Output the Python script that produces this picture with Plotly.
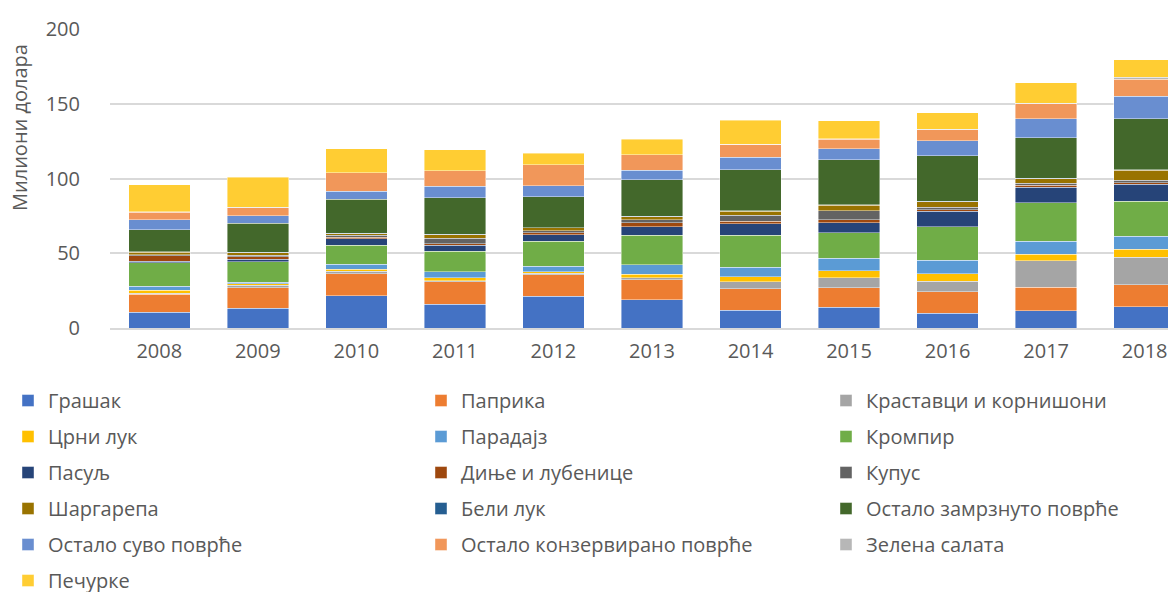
import plotly.graph_objects as go

years = ["2008", "2009", "2010", "2011", "2012", "2013", "2014", "2015", "2016", "2017", "2018"]

grasak      = [10.5, 13.2, 21.7, 16.0, 21.2, 18.9, 12.0, 14.0,  9.8, 11.5, 14.2]
paprika     = [12.1, 13.7, 14.6, 14.8, 14.3, 13.3, 14.1, 13.0, 14.3, 15.9, 14.6]
krastavci   = [ 0.7,  1.8,  1.8,  0.9,  1.1,  1.3,  4.7,  6.5,  7.2, 17.7, 18.6]
crni_luk    = [ 1.8,  0.9,  1.1,  2.0,  1.1,  2.5,  3.4,  4.9,  4.9,  4.3,  5.2]
paradajz    = [ 2.7,  1.1,  3.6,  3.8,  3.6,  6.3,  6.3,  8.3,  9.0,  8.5,  8.7]
krompir     = [15.7, 13.7, 12.6, 13.9, 16.8, 19.7, 21.7, 17.1, 22.4, 25.8, 23.6]
pasulj      = [ 1.3,  1.6,  4.2,  3.9,  4.3,  5.8,  7.6,  6.7, 10.5, 10.5, 11.2]
dinje       = [ 3.4,  1.5,  1.2,  0.9,  1.3,  2.7,  1.6,  1.8,  0.9,  1.2,  1.1]
kupus       = [ 0.7,  1.2,  1.1,  4.0,  1.4,  2.0,  4.0,  6.0,  1.8,  1.3,  1.6]
sargarepa   = [ 1.7,  1.7,  1.1,  2.2,  1.8,  2.0,  2.7,  3.9,  3.8,  3.2,  6.7]
beli_luk    = [ 0.3,  0.3,  0.3,  0.3,  0.3,  0.3,  0.3,  0.3,  0.3,  0.3,  0.3]
zamrznuto   = [14.8, 19.3, 22.7, 24.3, 20.6, 24.4, 27.4, 30.0, 30.3, 27.1, 34.3]
suvo        = [ 6.8,  5.2,  5.6,  7.8,  7.2,  6.3,  8.3,  7.4, 10.1, 12.8, 14.8]
konzervir   = [ 4.9,  5.4, 12.1, 10.3, 14.1, 10.3,  8.7,  6.5,  7.4, 10.0, 11.6]
salata      = [ 0.2,  0.2,  0.2,  0.2,  0.2,  0.2,  0.2,  0.2,  0.2,  0.2,  1.1]
pecurke     = [18.2, 20.1, 16.0, 14.1,  7.7, 10.3, 16.1, 12.1, 11.2, 13.9, 11.7]

series = [
    ("Грашак", grasak, "#4472C4", "legend"),
    ("Паприка", paprika, "#ED7D31", "legend2"),
    ("Краставци и корнишони", krastavci, "#A5A5A5", "legend3"),
    ("Црни лук", crni_luk, "#FFC000", "legend"),
    ("Парадајз", paradajz, "#5B9BD5", "legend2"),
    ("Кромпир", krompir, "#70AD47", "legend3"),
    ("Пасуљ", pasulj, "#264478", "legend"),
    ("Диње и лубенице", dinje, "#9E480E", "legend2"),
    ("Купус", kupus, "#636363", "legend3"),
    ("Шаргарепа", sargarepa, "#997300", "legend"),
    ("Бели лук", beli_luk, "#255E91", "legend2"),
    ("Остало замрзнуто поврће", zamrznuto, "#43682B", "legend3"),
    ("Остало суво поврће", suvo, "#698ED0", "legend"),
    ("Остало конзервирано поврће", konzervir, "#F1975A", "legend2"),
    ("Зелена салата", salata, "#B7B7B7", "legend3"),
    ("Печурке", pecurke, "#FFCD33", "legend"),
]

FONT = "Open Sans"
TXT = "#595959"
FS = 20

fig = go.Figure()
for i, (name, vals, color, lg) in enumerate(series):
    fig.add_trace(go.Bar(
        x=years, y=vals, name=name, legend=lg, legendgroup=name,
        marker=dict(color=color, line=dict(color="rgba(255,255,255,0.6)", width=0.7)),
    ))

leg_common = dict(
    orientation="v", xref="container", yref="container", xanchor="left", yanchor="top",
    y=0.3699, traceorder="grouped", tracegroupgap=7, bgcolor="rgba(0,0,0,0)",
    font=dict(family=FONT, size=FS, color=TXT),
)

fig.update_layout(
    width=1176, height=592,
    barmode="stack", bargap=0.376,
    plot_bgcolor="white", paper_bgcolor="white",
    margin=dict(l=102, r=0, t=21, b=272, pad=0, autoexpand=False),
    font=dict(family=FONT, size=FS, color=TXT),
    yaxis=dict(range=[0, 200], dtick=50, showgrid=True, gridcolor="#D9D9D9", gridwidth=1.5,
               zeroline=False, showline=False, ticks="", ticklabelstandoff=29,
               tickfont=dict(family=FONT, size=FS, color=TXT)),
    xaxis=dict(range=[-0.5, 10.399], showgrid=False, showline=True, linecolor="#D9D9D9",
               linewidth=1.5, ticks="", ticklabelstandoff=4,
               tickfont=dict(family=FONT, size=FS, color=TXT)),
    legend=dict(x=0.0, **leg_common),
    legend2=dict(x=413/1176, **leg_common),
    legend3=dict(x=818/1176, **leg_common),
    showlegend=True,
    annotations=[dict(text="Милиони долара", textangle=-90, xref="paper", yref="paper",
                      x=(11 - 102) / 1074, y=(320 - 120) / 299, xanchor="center", yanchor="middle",
                      showarrow=False, font=dict(family=FONT, size=FS, color=TXT))],
)

fig.write_html("out.html")
